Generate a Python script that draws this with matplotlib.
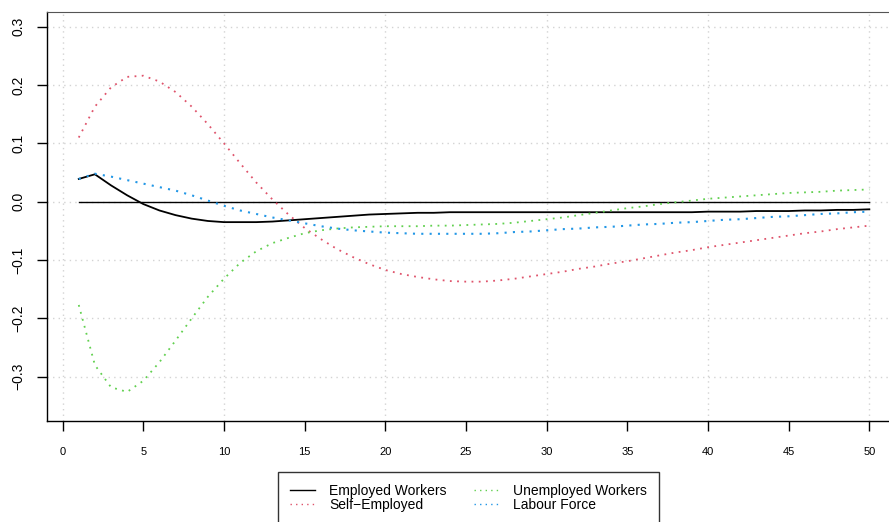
import numpy as np
import matplotlib.pyplot as plt
from matplotlib.lines import Line2D

plt.rcParams['font.family'] = ['Liberation Sans', 'DejaVu Sans']

# horizontes
horizon = np.arange(1, 51)

employed = [0.039, 0.047, 0.028, 0.011, -0.004, -0.015, -0.023, -0.029, -0.033, -0.035,
            -0.035, -0.035, -0.034, -0.032, -0.030, -0.028, -0.026, -0.024, -0.022, -0.021,
            -0.020, -0.019, -0.019, -0.018, -0.018, -0.018, -0.018, -0.018, -0.018, -0.018,
            -0.018, -0.018, -0.018, -0.018, -0.018, -0.018, -0.018, -0.018, -0.018, -0.017,
            -0.017, -0.017, -0.016, -0.016, -0.016, -0.015, -0.015, -0.014, -0.014, -0.013]

self_employed = [0.110, 0.163, 0.196, 0.214, 0.216, 0.206, 0.188, 0.163, 0.133, 0.100,
                 0.066, 0.033, 0.004, -0.022, -0.045, -0.064, -0.081, -0.095, -0.107, -0.117,
                 -0.124, -0.129, -0.133, -0.136, -0.137, -0.137, -0.135, -0.132, -0.128, -0.124,
                 -0.120, -0.115, -0.111, -0.106, -0.102, -0.097, -0.092, -0.087, -0.083, -0.078,
                 -0.074, -0.070, -0.066, -0.062, -0.058, -0.054, -0.051, -0.047, -0.044, -0.041]

unemployed = [-0.177, -0.280, -0.318, -0.326, -0.307, -0.275, -0.238, -0.200, -0.163, -0.132,
              -0.105, -0.085, -0.071, -0.062, -0.054, -0.049, -0.046, -0.044, -0.043, -0.042,
              -0.042, -0.042, -0.041, -0.041, -0.040, -0.039, -0.038, -0.036, -0.033, -0.030,
              -0.027, -0.023, -0.019, -0.015, -0.011, -0.008, -0.004, -0.001, 0.002, 0.005,
              0.007, 0.009, 0.011, 0.013, 0.015, 0.016, 0.017, 0.019, 0.020, 0.021]

labour_force = [0.039, 0.048, 0.043, 0.037, 0.031, 0.025, 0.019, 0.011, 0.002, -0.007,
                -0.015, -0.021, -0.027, -0.032, -0.037, -0.042, -0.046, -0.049, -0.051, -0.053,
                -0.054, -0.055, -0.055, -0.055, -0.055, -0.055, -0.054, -0.052, -0.051, -0.049,
                -0.047, -0.046, -0.044, -0.043, -0.041, -0.039, -0.038, -0.036, -0.035, -0.033,
                -0.031, -0.030, -0.028, -0.026, -0.025, -0.023, -0.021, -0.020, -0.018, -0.017]

labels = ['Employed Workers', 'Self\u2212Employed', 'Unemployed Workers', 'Labour Force']
colors = ['black', '#DF536B', '#61D04F', '#2297E6']

x_ticks = np.arange(0, 51, 5)
y_ticks = [-0.3, -0.2, -0.1, 0.0, 0.1, 0.2, 0.3]

fig = plt.figure(figsize=(8.89, 5.22), dpi=100)
ax = fig.add_axes([0.0532, 0.194, 0.9468, 0.7836])

# grade pontilhada
for gx in range(0, 51, 10):
    ax.axvline(gx, color='#d3d3d3', lw=1, ls=(0, (1, 3)), zorder=0)
for gy in y_ticks:
    ax.axhline(gy, color='#d3d3d3', lw=1, ls=(0, (1, 3)), zorder=0)

ax.plot(horizon, np.zeros(len(horizon)), color='black', lw=1)

dots = (0, (1, 3))
ax.plot(horizon, employed, color=colors[0], lw=1.3, ls='-')
ax.plot(horizon, self_employed, color=colors[1], lw=1.3, ls=dots)
ax.plot(horizon, unemployed, color=colors[2], lw=1.3, ls=dots)
ax.plot(horizon, labour_force, color=colors[3], lw=1.5, ls=dots)

ax.set_xlim(-0.95, 51.22)
ax.set_ylim(-0.3754, 0.3257)
ax.set_xticks(x_ticks)
ax.set_yticks(y_ticks)
ax.set_yticklabels(['\u22120.3', '\u22120.2', '\u22120.1', '0.0', '0.1', '0.2', '0.3'],
                   rotation=90, va='center')
ax.tick_params(axis='x', length=7, width=1, labelsize=8, pad=12)
ax.tick_params(axis='y', length=7, width=1, labelsize=10, pad=9)
ax.spines['right'].set_visible(False)
for s in ['left', 'bottom']:
    ax.spines[s].set_color('black')
    ax.spines[s].set_linewidth(1)
ax.spines['top'].set_color('#555555')

handles = [Line2D([], [], color=colors[0], lw=1, ls='-'),
           Line2D([], [], color=colors[1], lw=1, ls=dots),
           Line2D([], [], color=colors[2], lw=1, ls=dots),
           Line2D([], [], color=colors[3], lw=1, ls=dots)]
leg = fig.legend(handles, labels, loc='upper left', bbox_to_anchor=(278.3 / 889, 1 - 472.3 / 522),
                 ncol=2, fontsize=10, frameon=True, fancybox=False, edgecolor='black',
                 handlelength=1.8, handletextpad=1.0, columnspacing=2.0, labelspacing=0.0,
                 borderpad=0.85, borderaxespad=0)
leg.get_frame().set_linewidth(1)

plt.savefig('out.png', dpi=100)
